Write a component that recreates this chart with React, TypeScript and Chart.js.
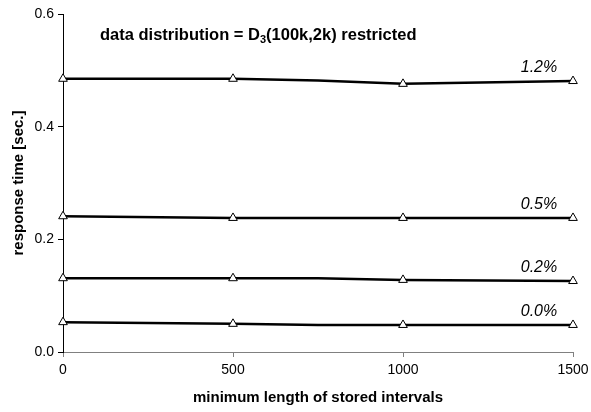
import React, { useEffect, useRef } from "react";
import { Chart, registerables } from "chart.js";

Chart.register(...registerables);

const xValues = [0, 500, 750, 1000, 1500];
const showMarker = [true, true, false, true, true];
const seriesNames = ["1.2%", "0.5%", "0.2%", "0.0%"];
const series12 = [0.485, 0.485, 0.482, 0.476, 0.481];
const series05 = [0.241, 0.238, 0.238, 0.238, 0.238];
const series02 = [0.131, 0.131, 0.131, 0.128, 0.126];
const series00 = [0.053, 0.05, 0.048, 0.048, 0.048];
const allSeries = [series12, series05, series02, series00];
const xTicks = [0, 500, 1000, 1500];
const yTicks = [0, 0.2, 0.4, 0.6];

const FONT = "Arial, 'Liberation Sans', sans-serif";

const annotationPlugin = {
  id: "annotations",
  afterDatasetsDraw(chart: any) {
    const { ctx, chartArea, scales } = chart;
    const xs = scales.x;
    const ys = scales.y;
    ctx.save();
    ctx.fillStyle = "#000";
    ctx.textBaseline = "alphabetic";
    ctx.textAlign = "left";
    let x = chartArea.left + 37;
    const y = chartArea.top + 26;
    ctx.font = `bold 16.5px ${FONT}`;
    const p1 = "data distribution = D";
    ctx.fillText(p1, x, y);
    x += ctx.measureText(p1).width;
    ctx.font = `bold 11px ${FONT}`;
    ctx.fillText("3", x, y + 3);
    x += ctx.measureText("3").width;
    ctx.font = `bold 16.5px ${FONT}`;
    ctx.fillText("(100k,2k) restricted", x, y);
    ctx.font = `italic 16px ${FONT}`;
    ctx.textAlign = "center";
    const lx = xs.getPixelForValue(1400);
    allSeries.forEach((s, i) => {
      const py = ys.getPixelForValue(s[s.length - 1]);
      ctx.fillText(seriesNames[i], lx, py - 9);
    });
    ctx.restore();
  },
};

export default function App() {
  const ref = useRef<HTMLCanvasElement>(null);
  useEffect(() => {
    document.body.style.margin = "0";
    const canvas = ref.current!;
    const chart = new Chart(canvas, {
      type: "line",
      data: {
        datasets: allSeries.map((s, i) => ({
          label: seriesNames[i],
          data: s.map((v, j) => ({ x: xValues[j], y: v })),
          borderColor: "#000",
          borderWidth: 2.5,
          pointStyle: "triangle",
          pointRadius: showMarker.map((m) => (m ? 5 : 0)),
          pointBackgroundColor: "#fff",
          pointBorderColor: "#000",
          pointBorderWidth: 1,
          tension: 0,
          clip: false,
        })),
      },
      options: {
        responsive: false,
        animation: false,
        layout: { padding: { top: 14, right: 18, left: 10, bottom: 0 } },
        plugins: {
          legend: { display: false },
          tooltip: { enabled: false },
        },
        scales: {
          x: {
            type: "linear",
            min: 0,
            max: 1500,
            afterBuildTicks: (s: any) => {
              s.ticks = xTicks.map((v) => ({ value: v }));
            },
            afterFit: (s: any) => {
              s.height = 60;
              s.paddingRight = 0;
              s.paddingLeft = 0;
            },
            grid: {
              drawOnChartArea: false,
              drawTicks: true,
              tickLength: 5,
              color: "#808080",
            },
            border: { color: "#808080", width: 1 },
            ticks: {
              color: "#000",
              font: { family: FONT, size: 14 },
              padding: 5,
              maxRotation: 0,
              callback: (v: any) => String(v),
            },
            title: {
              display: true,
              text: "minimum length of stored intervals",
              color: "#000",
              font: { family: FONT, size: 15, weight: "bold" },
              padding: { top: 4, bottom: 5 },
            },
          },
          y: {
            type: "linear",
            min: 0,
            max: 0.6,
            afterBuildTicks: (s: any) => {
              s.ticks = yTicks.map((v) => ({ value: v }));
            },
            afterFit: (s: any) => {
              s.width = 53;
            },
            grid: {
              drawOnChartArea: false,
              drawTicks: true,
              tickLength: 5,
              color: "#000",
            },
            border: { color: "#000", width: 1 },
            ticks: {
              color: "#000",
              font: { family: FONT, size: 14 },
              padding: 4,
              callback: (v: any) => Number(v).toFixed(1),
            },
            title: {
              display: true,
              text: "response time [sec.]",
              color: "#000",
              font: { family: FONT, size: 15, weight: "bold" },
              padding: { top: 0, bottom: 6 },
            },
          },
        },
      },
      plugins: [annotationPlugin],
    });
    return () => chart.destroy();
  }, []);
  return (
    <div style={{ position: "relative", width: 591, height: 412, background: "#fff" }}>
      <canvas ref={ref} width={591} height={412} />
    </div>
  );
}
